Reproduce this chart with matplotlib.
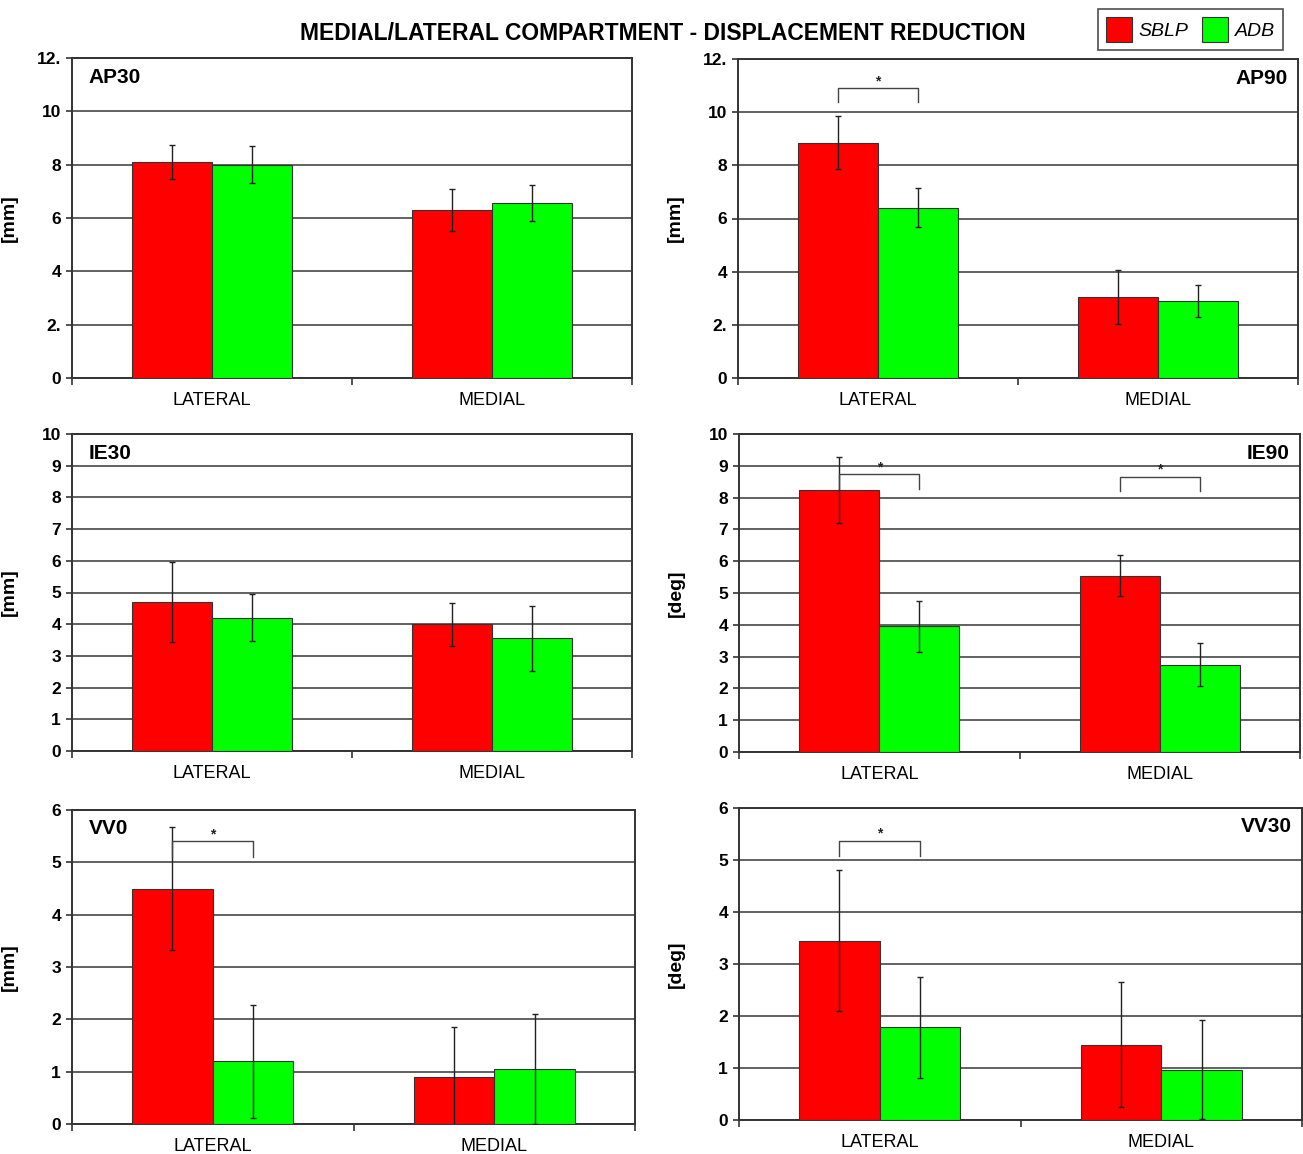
import matplotlib
matplotlib.use("Agg")
import matplotlib.pyplot as plt
import numpy as np

plt.rcParams["font.family"] = ["Liberation Sans", "DejaVu Sans"]

W, H = 1303, 1154

panels = ["AP30", "AP90", "IE30", "IE90", "VV0", "VV30"]
categories = ["LATERAL", "MEDIAL"]
units = ["[mm]", "[mm]", "[mm]", "[deg]", "[mm]", "[deg]"]

sblp_mean = [[8.1, 6.3], [8.85, 3.05], [4.7, 4.0], [8.25, 5.55], [4.5, 0.9], [3.45, 1.45]]
sblp_sd = [[0.62, 0.78], [1.0, 1.0], [1.27, 0.68], [1.04, 0.65], [1.17, 0.95], [1.35, 1.2]]
adb_mean = [[8.0, 6.55], [6.4, 2.9], [4.2, 3.55], [3.95, 2.75], [1.2, 1.05], [1.78, 0.97]]
adb_sd = [[0.7, 0.68], [0.73, 0.6], [0.74, 1.02], [0.8, 0.68], [1.08, 1.05], [0.97, 0.96]]

y_max = [12, 12, 10, 10, 6, 6]
y_step = [2, 2, 1, 1, 1, 1]

# significant pairs: (category, bracket top, leg bottom)
sig_pairs = [
    [],
    [(0, 10.9, 10.38)],
    [],
    [(0, 8.74, 8.27), (1, 8.65, 8.2)],
    [(0, 5.4, 5.1)],
    [(0, 5.37, 5.08)],
]

# plot areas in pixels: left, top, right, bottom
boxes = [
    (72, 58, 632, 378), (738, 59, 1298, 378),
    (72, 434, 632, 751), (739, 434, 1300, 752),
    (72, 810, 635, 1124), (739, 808, 1302, 1120),
]
label_left = [True, False, True, False, True, False]

RED = "#ff0000"
GREEN = "#00ff00"
GRID = "#555555"
bar_w = 0.286

fig = plt.figure(figsize=(W / 100, H / 100), dpi=100)

handles = None
for i, name in enumerate(panels):
    l, t, r, b = boxes[i]
    ax = fig.add_axes([l / W, 1 - b / H, (r - l) / W, (b - t) / H])
    x = np.arange(len(categories))
    err_kw = dict(ecolor="#222222", elinewidth=1.0, capsize=2.5, capthick=1.0)
    hr = ax.bar(x - bar_w / 2, sblp_mean[i], bar_w, yerr=sblp_sd[i], color=RED,
                edgecolor="#333333", linewidth=0.8, error_kw=err_kw, zorder=3, label="SBLP")
    hg = ax.bar(x + bar_w / 2, adb_mean[i], bar_w, yerr=adb_sd[i], color=GREEN,
                edgecolor="#333333", linewidth=0.8, error_kw=err_kw, zorder=3, label="ADB")
    if handles is None:
        handles = [hr, hg]

    for cat, top, leg in sig_pairs[i]:
        x0, x1 = cat - bar_w / 2, cat + bar_w / 2
        ax.plot([x0, x0, x1, x1], [leg, top, top, leg], color="#444444", lw=1.0, zorder=4)
        ax.text(cat, top, "*", ha="center", va="bottom", fontsize=10,
                fontweight="bold", color="#222222", zorder=4)

    ax.set_xlim(-0.5, 1.5)
    ax.set_ylim(0, y_max[i])
    ticks = np.arange(0, y_max[i] + 0.1, y_step[i])
    ax.set_yticks(ticks)
    if y_max[i] == 12:
        ax.set_yticklabels(["0", "2.", "4", "6", "8", "10", "12."])
    for lab in ax.get_yticklabels():
        lab.set_fontweight("bold")
    ax.grid(axis="y", color=GRID, lw=1.3, zorder=1)
    ax.set_axisbelow(True)

    ax.set_xticks(x)
    ax.set_xticklabels(categories)
    ax.set_xticks([-0.5, 0.5, 1.5], minor=True)
    ax.tick_params(axis="x", which="major", length=0, pad=10, labelsize=13)
    ax.tick_params(axis="x", which="minor", length=5, width=1.2, color="#333333", direction="out")
    ax.tick_params(axis="y", length=4, width=1.2, color="#333333", labelsize=12.5, pad=4)
    for sp in ax.spines.values():
        sp.set_color("#333333")
        sp.set_linewidth(1.4)

    ax.set_ylabel(units[i], fontsize=14, fontweight="bold")
    ax.yaxis.set_label_coords(-0.096, 0.5)

    if label_left[i]:
        ax.text(0.03, 0.94, name, transform=ax.transAxes, ha="left", va="center",
                fontsize=15, fontweight="bold")
    else:
        ax.text(0.982, 0.94, name, transform=ax.transAxes, ha="right", va="center",
                fontsize=15, fontweight="bold")

fig.text(663 / W, 1 - 33 / H, "MEDIAL/LATERAL COMPARTMENT - DISPLACEMENT REDUCTION",
         ha="center", va="center", fontsize=16.5, fontweight="bold")

leg = fig.legend(handles=handles, labels=["SBLP", "ADB"], ncol=2,
                 loc="upper right", bbox_to_anchor=(1283 / W, 1 - 9 / H),
                 borderaxespad=0, frameon=True, fancybox=False, edgecolor="#222222",
                 prop={"style": "italic", "size": 14},
                 handlelength=1.35, handleheight=1.6, handletextpad=0.35,
                 columnspacing=0.7, borderpad=0.4)
leg.get_frame().set_linewidth(1.2)

fig.savefig("out.png", dpi=100)
